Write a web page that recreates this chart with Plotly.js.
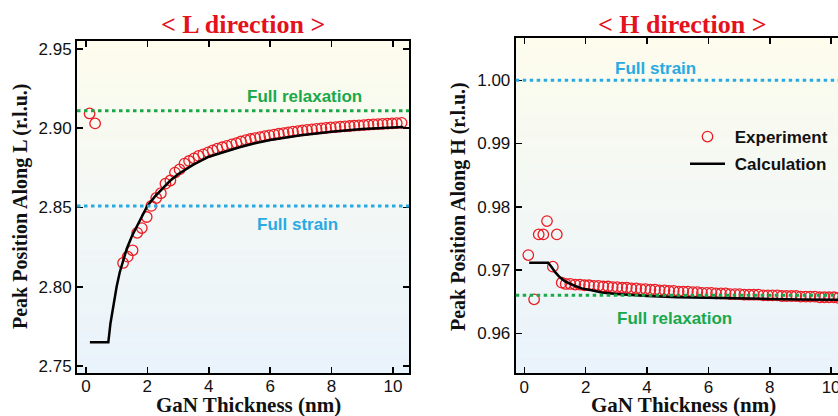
<!DOCTYPE html>
<html><head><meta charset="utf-8">
<script src="https://cdn.plot.ly/plotly-3.0.1.min.js"></script>
<style>html,body{margin:0;padding:0;overflow:hidden;background:#fff}#chart{width:850px;height:416px}</style>
</head><body><div id="chart"></div>
<script>
// ---------- data ----------
const lExpX = [0.12, 0.30, 1.21, 1.36, 1.52, 1.67, 1.82, 1.98, 2.13, 2.29, 2.44, 2.59, 2.75, 2.90, 3.05, 3.21, 3.36, 3.52, 3.67, 3.82, 3.98, 4.13, 4.28, 4.44, 4.59, 4.75, 4.90, 5.05, 5.21, 5.36, 5.51, 5.67, 5.82, 5.97, 6.13, 6.28, 6.44, 6.59, 6.74, 6.90, 7.05, 7.20, 7.36, 7.51, 7.67, 7.82, 7.97, 8.13, 8.28, 8.43, 8.59, 8.74, 8.89, 9.05, 9.20, 9.36, 9.51, 9.66, 9.82, 9.97, 10.12, 10.28];
const lExpY = [2.9093, 2.9030, 2.815, 2.819, 2.823, 2.834, 2.837, 2.844, 2.851, 2.856, 2.859, 2.865, 2.867, 2.872, 2.874, 2.8777, 2.8793, 2.8810, 2.8825, 2.8835, 2.8848, 2.8860, 2.8871, 2.8880, 2.8889, 2.8898, 2.8906, 2.8916, 2.8925, 2.8932, 2.8938, 2.8944, 2.8950, 2.8955, 2.8960, 2.8965, 2.8969, 2.8974, 2.8978, 2.8982, 2.8986, 2.8989, 2.8993, 2.8996, 2.8999, 2.9002, 2.9005, 2.9007, 2.9010, 2.9012, 2.9014, 2.9016, 2.9018, 2.9020, 2.9022, 2.9024, 2.9026, 2.9027, 2.9029, 2.9030, 2.9032, 2.9034];
const lCalcX = [0.13, 0.73, 0.80, 0.90, 1.00, 1.10, 1.20, 1.33, 1.50, 1.65, 1.80, 2.00, 2.25, 2.50, 2.75, 3.00, 3.50, 4.00, 4.50, 5.00, 5.50, 6.00, 7.00, 8.00, 9.00, 10.34];
const lCalcY = [2.765, 2.765, 2.777, 2.790, 2.800, 2.809, 2.816, 2.824, 2.832, 2.838, 2.844, 2.851, 2.857, 2.862, 2.867, 2.871, 2.877, 2.882, 2.885, 2.888, 2.8905, 2.8925, 2.8955, 2.8978, 2.8995, 2.9008];
const lRelax = 2.911, lStrain = 2.851;

const hExpX = [0.13, 0.32, 0.47, 0.62, 0.74, 0.93, 1.06, 1.22, 1.35, 1.50, 1.66, 1.81, 1.96, 2.11, 2.27, 2.42, 2.57, 2.73, 2.88, 3.03, 3.19, 3.34, 3.49, 3.65, 3.80, 3.95, 4.11, 4.26, 4.41, 4.57, 4.72, 4.87, 5.03, 5.18, 5.33, 5.49, 5.64, 5.79, 5.95, 6.10, 6.25, 6.41, 6.56, 6.71, 6.87, 7.02, 7.17, 7.33, 7.48, 7.63, 7.79, 7.94, 8.09, 8.25, 8.40, 8.55, 8.71, 8.86, 9.01, 9.17, 9.32, 9.47, 9.63, 9.78, 9.93, 10.09, 10.24, 10.39];
const hExpY = [0.97237, 0.96537, 0.97563, 0.97563, 0.97774, 0.97053, 0.97563, 0.9680, 0.9678, 0.9678, 0.9677, 0.9677, 0.9676, 0.9676, 0.9675, 0.9675, 0.9674, 0.9674, 0.9673, 0.9673, 0.9672, 0.9672, 0.9671, 0.9671, 0.9670, 0.9670, 0.9669, 0.9669, 0.9668, 0.9668, 0.9667, 0.9667, 0.9666, 0.9666, 0.9666, 0.9665, 0.9665, 0.9664, 0.9664, 0.9664, 0.9663, 0.9663, 0.9663, 0.9662, 0.9662, 0.9662, 0.9661, 0.9661, 0.9661, 0.9661, 0.9660, 0.9660, 0.9660, 0.9660, 0.9659, 0.9659, 0.9659, 0.9659, 0.9658, 0.9658, 0.9658, 0.9658, 0.9657, 0.9657, 0.9657, 0.9657, 0.9656, 0.9656];
const hCalcX = [0.16, 0.78, 0.90, 1.00, 1.15, 1.33, 1.60, 1.87, 2.20, 2.52, 3.00, 3.50, 4.00, 5.00, 6.00, 7.00, 8.00, 9.00, 10.50];
const hCalcY = [0.97115, 0.97115, 0.9704, 0.9697, 0.9689, 0.9682, 0.9676, 0.9671, 0.9668, 0.96645, 0.9662, 0.9660, 0.96588, 0.96572, 0.9656, 0.9655, 0.96543, 0.96536, 0.9653];
const hRelax = 0.966, hStrain = 1.000;

const xTicks = [0, 2, 4, 6, 8, 10];
const lYTicks = [2.75, 2.80, 2.85, 2.90, 2.95];
const hYTicks = [0.96, 0.97, 0.98, 0.99, 1.00];

// ---------- style ----------
const W = 850, H = 416;
const RED = '#ec1c24', GREEN = '#1aa84b', BLUE = '#2aaae2', TITLE_RED = '#e3121d';
const SANS = 'Liberation Sans, Arial, sans-serif';
const SERIF = 'Liberation Serif, Times New Roman, serif';
const px = v => v / W, py = v => 1 - v / H;

const expMarker = {symbol: 'circle-open', size: 10.5, color: RED, line: {width: 1.3, color: RED}};
const traces = [
  {x: lExpX, y: lExpY, xaxis: 'x', yaxis: 'y', mode: 'markers', marker: expMarker, showlegend: false},
  {x: lCalcX, y: lCalcY, xaxis: 'x', yaxis: 'y', mode: 'lines', line: {color: '#000', width: 2.5}, showlegend: false},
  {x: hExpX, y: hExpY, xaxis: 'x2', yaxis: 'y2', mode: 'markers', marker: expMarker, name: '\u00a0Experiment', legendgroup: 'a'},
  {x: hCalcX, y: hCalcY, xaxis: 'x2', yaxis: 'y2', mode: 'lines', line: {color: '#000', width: 2.5}, name: '\u00a0Calculation', legendgroup: 'b'}
];

function axisBase() {
  return {
    showline: true, linewidth: 2, linecolor: '#000', mirror: 'ticks',
    ticks: 'inside', ticklen: 6, tickwidth: 1.5, tickcolor: '#000',
    showgrid: false, zeroline: false,
    tickfont: {family: SANS, size: 17, color: '#111'}
  };
}

// gradient background bands
const shapes = [];
const bgTop = [253, 252, 237], bgBot = [233, 243, 252];
const NB = 40;
[['x domain', 'y domain'], ['x2 domain', 'y2 domain']].forEach(([xr, yr]) => {
  for (let i = 0; i < NB; i++) {
    const t = (i + 0.5) / NB; // 0 bottom -> 1 top
    const c = bgBot.map((b, k) => Math.round(b + (bgTop[k] - b) * t));
    shapes.push({type: 'rect', xref: xr, yref: yr, x0: 0, x1: 1, y0: i / NB, y1: (i + 1) / NB + 0.001,
      fillcolor: `rgb(${c[0]},${c[1]},${c[2]})`, line: {width: 0}, layer: 'below'});
  }
});
const dotted = (xr, yr, yv, col) => ({type: 'line', xref: xr, yref: yr, x0: 0, x1: 1, y0: yv, y1: yv,
  line: {color: col, width: 3, dash: '3.5px,3.5px'}, layer: 'above'});
shapes.push(dotted('x domain', 'y', lRelax, GREEN));
shapes.push(dotted('x domain', 'y', lStrain, BLUE));
shapes.push(dotted('x2 domain', 'y2', hRelax, GREEN));
shapes.push(dotted('x2 domain', 'y2', hStrain, BLUE));

const labelFont = c => ({family: SANS, size: 17, color: c, weight: 'bold'});
const annotations = [
  {xref: 'paper', yref: 'paper', x: px(243), y: py(24), text: '&lt; L direction &gt;', showarrow: false, xanchor: 'center', yanchor: 'middle',
    font: {family: SERIF, size: 26, color: TITLE_RED, weight: 'bold'}},
  {xref: 'paper', yref: 'paper', x: px(682), y: py(24), text: '&lt; H direction &gt;', showarrow: false, xanchor: 'center', yanchor: 'middle',
    font: {family: SERIF, size: 26, color: TITLE_RED, weight: 'bold'}},
  {xref: 'paper', yref: 'paper', x: px(248), y: py(405), text: 'GaN Thickness (nm)', showarrow: false, xanchor: 'center', yanchor: 'middle',
    font: {family: SERIF, size: 21, color: '#111', weight: 'bold'}},
  {xref: 'paper', yref: 'paper', x: px(683), y: py(405), text: 'GaN Thickness (nm)', showarrow: false, xanchor: 'center', yanchor: 'middle',
    font: {family: SERIF, size: 21, color: '#111', weight: 'bold'}},
  {xref: 'paper', yref: 'paper', x: px(20), y: py(207), text: 'Peak Position Along L (r.l.u.)', showarrow: false, textangle: -90, xanchor: 'center', yanchor: 'middle',
    font: {family: SERIF, size: 20, color: '#111', weight: 'bold'}},
  {xref: 'paper', yref: 'paper', x: px(458), y: py(207), text: 'Peak Position Along H (r.l.u.)', showarrow: false, textangle: -90, xanchor: 'center', yanchor: 'middle',
    font: {family: SERIF, size: 20, color: '#111', weight: 'bold'}},
  {xref: 'x', yref: 'y', x: 7.13, y: 2.9197, text: 'Full relaxation', showarrow: false, xanchor: 'center', yanchor: 'middle', font: labelFont(GREEN)},
  {xref: 'x', yref: 'y', x: 6.9, y: 2.8394, text: 'Full strain', showarrow: false, xanchor: 'center', yanchor: 'middle', font: labelFont(BLUE)},
  {xref: 'x2', yref: 'y2', x: 4.28, y: 1.00185, text: 'Full strain', showarrow: false, xanchor: 'center', yanchor: 'middle', font: labelFont(BLUE)},
  {xref: 'x2', yref: 'y2', x: 4.9, y: 0.96237, text: 'Full relaxation', showarrow: false, xanchor: 'center', yanchor: 'middle', font: labelFont(GREEN)}
];

const layout = {
  width: W, height: H, autosize: false,
  margin: {l: 0, r: 0, t: 0, b: 0, pad: 0},
  paper_bgcolor: '#fff', plot_bgcolor: 'rgba(0,0,0,0)',
  showlegend: true,
  legend: {x: px(685), y: py(119), xanchor: 'left', yanchor: 'top', bgcolor: 'rgba(0,0,0,0)', borderwidth: 0,
    font: {family: SANS, size: 17, color: '#111', weight: 'bold'}, itemwidth: 35, traceorder: 'grouped', tracegroupgap: 2},
  xaxis: Object.assign(axisBase(), {domain: [px(77), px(409)], range: [-0.29, 10.52], anchor: 'y', tickvals: xTicks, ticktext: xTicks.map(String), ticklabelstandoff: -3}),
  yaxis: Object.assign(axisBase(), {domain: [43 / H, 375 / H], range: [2.7456, 2.955], anchor: 'x', tickvals: lYTicks, ticktext: lYTicks.map(v => v.toFixed(2))}),
  xaxis2: Object.assign(axisBase(), {domain: [px(515.7), px(848)], range: [-0.28, 10.55], anchor: 'y2', tickvals: xTicks, ticktext: xTicks.map(String), ticklabelstandoff: -3}),
  yaxis2: Object.assign(axisBase(), {domain: [42.7 / H, 377.7 / H], range: [0.95368, 1.00663], anchor: 'x2', tickvals: hYTicks, ticktext: hYTicks.map(v => v.toFixed(2))}),
  shapes: shapes,
  annotations: annotations
};

Plotly.newPlot('chart', traces, layout, {staticPlot: true, displayModeBar: false});
</script>
</body></html>
